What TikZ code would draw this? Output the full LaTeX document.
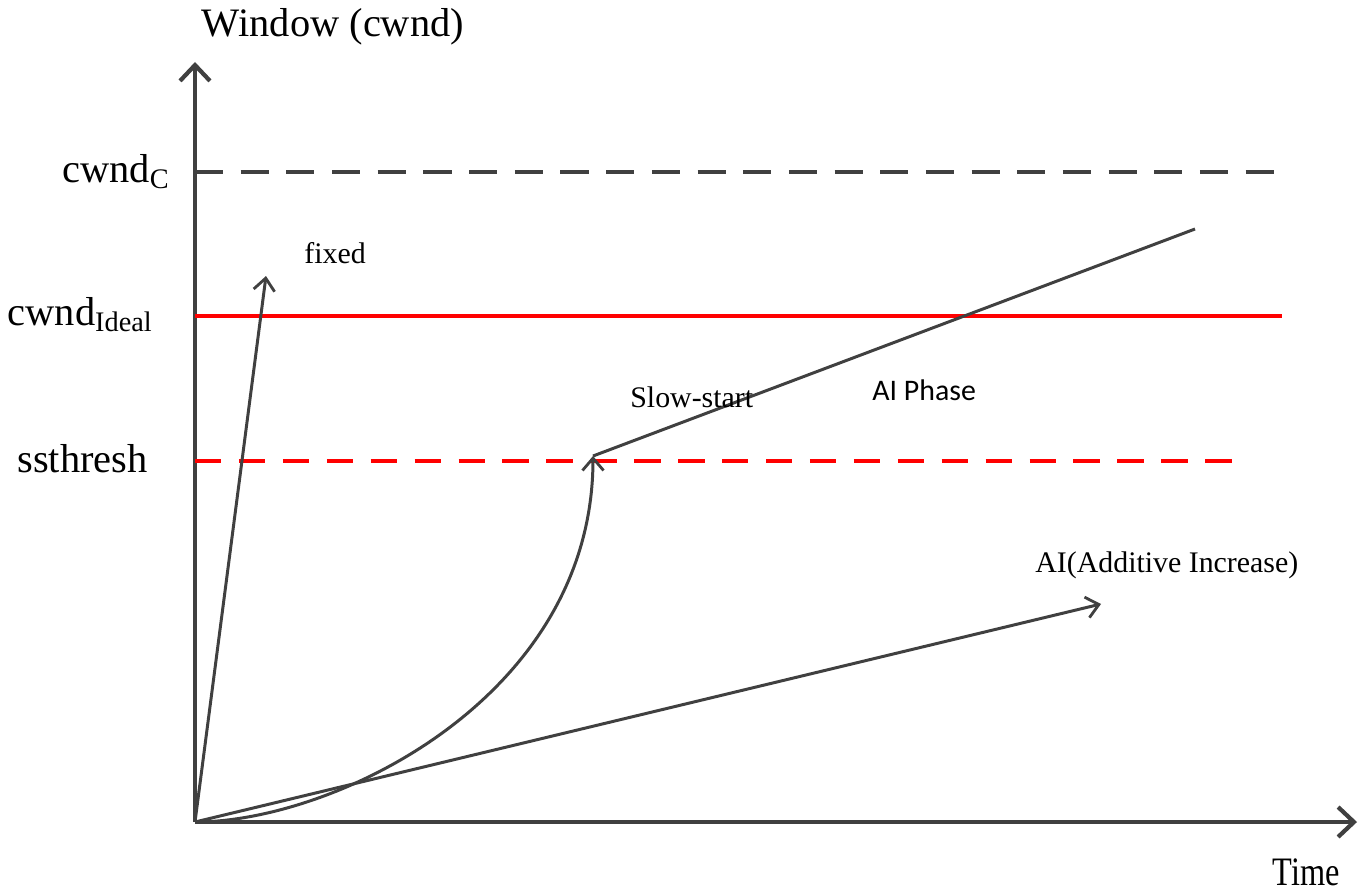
\documentclass[tikz,border=0pt]{standalone}
\usepackage{fontspec}
\setmainfont{Liberation Serif}
\newfontfamily\phasefont{Carlito}
\usetikzlibrary{arrows.meta, positioning}
\definecolor{axisgray}{RGB}{64,64,64}
\definecolor{linegray}{RGB}{64,64,64}
\definecolor{cwndred}{RGB}{255,0,0}

\begin{document}
\begin{tikzpicture}[
    x=0.02cm, y=-0.02cm,
    every node/.style={inner sep=0pt, text=black},
    axis/.style={draw=axisgray, line width=2.8pt, -{Straight Barb[length=9pt, width=17pt, line width=2.4pt]}},
    growth/.style={draw=linegray, line width=1.7pt, -{Straight Barb[length=7pt, width=12pt, line width=1.6pt]}},
    capline/.style={draw=linegray, line width=2.2pt, dash pattern=on 16pt off 10pt},
    idealline/.style={draw=cwndred, line width=1.9pt},
    threshline/.style={draw=cwndred, line width=2pt, dash pattern=on 15pt off 10pt},
    biglabel/.style={font=\fontsize{23}{27}\selectfont},
    smalllabel/.style={font=\fontsize{17}{20}\selectfont}
]
\useasboundingbox (0,0) rectangle (1361,892);

% axes
\coordinate (O) at (195,822);
\coordinate (ytop) at (195,62);
\coordinate (xend) at (1357,822);
\draw[axis] (O) -- (ytop);
\draw[axis] (O) -- (xend);
\node[biglabel, anchor=base] (ylabel) at (333,37) {Window (cwnd)};
\node[biglabel, anchor=base east, xscale=0.8] (xlabel) at (1340,885) {Time};

% reference levels
\coordinate (capL) at (195,172);
\coordinate (capR) at (1282,172);
\coordinate (idealL) at (195,316);
\coordinate (idealR) at (1282,316);
\coordinate (threshL) at (195,461);
\coordinate (threshR) at (1240,461);
\draw[capline] (capL) -- (capR);
\draw[idealline] (idealL) -- (idealR);
\draw[threshline] (threshL) -- (threshR);
\node[biglabel, anchor=base east] (cwndC) at (170,182) {cwnd\textsubscript{C}};
\node[biglabel, anchor=base east] (cwndIdeal) at (153,325) {cwnd\textsubscript{Ideal}};
\node[biglabel, anchor=base east] (ssthresh) at (148,472) {ssthresh};

% window growth
\coordinate (fixedtip) at (266,276);
\coordinate (sstip) at (593,456);
\coordinate (phaseend) at (1195,229);
\coordinate (aitip) at (1101,604);
\draw[growth] (O) -- (fixedtip);
\draw[growth] (O) .. controls (335,822) and (593,697) .. (sstip);
\draw[growth, -] (sstip) -- (phaseend);
\draw[growth] (O) -- (aitip);

\node[smalllabel, anchor=base west] (fixed) at (304,263) {fixed};
\node[smalllabel, anchor=base west] (slowstart) at (630,407) {Slow-start};
\node[smalllabel, anchor=base west, font=\phasefont\fontsize{17}{20}\selectfont] (aiphase) at (872,400) {AI Phase};
\node[smalllabel, anchor=base west] (ailabel) at (1035,572) {AI(Additive Increase)};
\end{tikzpicture}
\end{document}
